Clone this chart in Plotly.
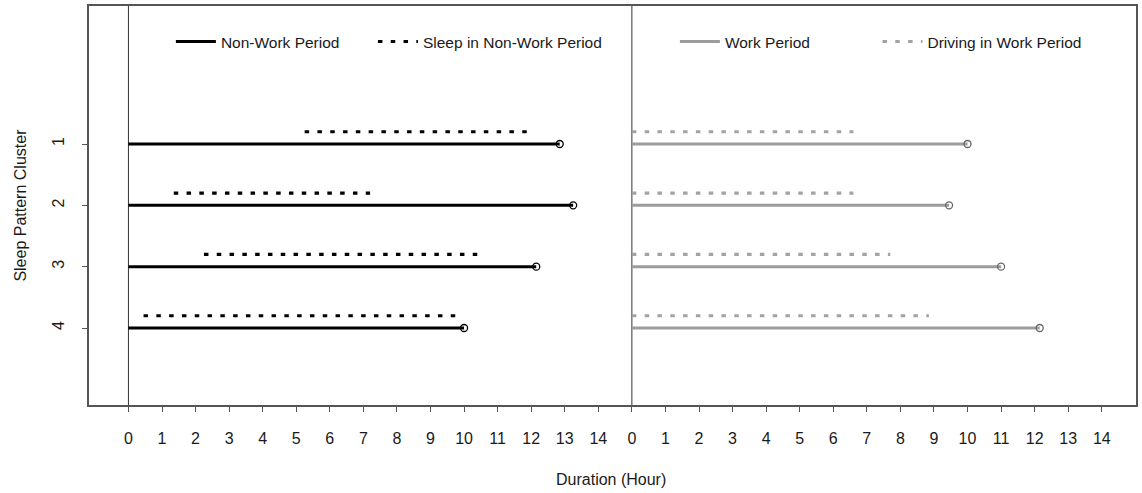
import plotly.graph_objects as go

# Sleep pattern clusters (y categories)
clusters = [1, 2, 3, 4]

# Non-work period: total length and the sleep window inside it (hours)
nonwork_hours = [12.85, 13.25, 12.15, 10.0]
sleep_start = [5.25, 1.35, 2.25, 0.45]
sleep_end = [11.9, 7.2, 10.45, 9.8]

# Work period: total length and driving time inside it (hours)
work_hours = [10.0, 9.45, 11.0, 12.15]
driving_start = [0, 0, 0, 0]
driving_end = [6.6, 6.6, 7.7, 8.85]

# Tick labels repeated for both panels
hour_ticks = list(range(0, 15))

# Right-hand panel shares the x axis, shifted by this many hours
PANEL_OFFSET = 15
DOT_SHIFT = 0.2  # dotted sub-period drawn just above its main segment

BLACK = "#000000"
GREY = "#9c9c9c"
DOT_DASH = "4.5px,8.3px"
FONT = "Liberation Sans, Arial, sans-serif"
TEXT_COLOR = "#1a1a1a"


def segments(starts, ends, ys, offset=0.0, dy=0.0):
    xs, yy = [], []
    for s, e, y in zip(starts, ends, ys):
        xs += [s + offset, e + offset, None]
        yy += [y - dy, y - dy, None]
    return xs, yy


fig = go.Figure()

# Left panel: non-work period and sleep
x, y = segments([0] * 4, nonwork_hours, clusters)
fig.add_trace(go.Scatter(x=x, y=y, mode="lines", name="Non-Work Period",
                         line=dict(color=BLACK, width=3), legend="legend"))
x, y = segments(sleep_start, sleep_end, clusters, dy=DOT_SHIFT)
fig.add_trace(go.Scatter(x=x, y=y, mode="lines", name="Sleep in Non-Work Period",
                         line=dict(color=BLACK, width=3.2, dash=DOT_DASH), legend="legend2"))
fig.add_trace(go.Scatter(x=nonwork_hours, y=clusters, mode="markers", showlegend=False,
                         marker=dict(symbol="circle-open", size=7, color=BLACK,
                                     line=dict(width=1.3, color=BLACK))))

# Right panel: work period and driving
x, y = segments([0] * 4, work_hours, clusters, offset=PANEL_OFFSET)
fig.add_trace(go.Scatter(x=x, y=y, mode="lines", name="Work Period",
                         line=dict(color=GREY, width=3), legend="legend3"))
x, y = segments(driving_start, driving_end, clusters, offset=PANEL_OFFSET, dy=DOT_SHIFT)
fig.add_trace(go.Scatter(x=x, y=y, mode="lines", name="Driving in Work Period",
                         line=dict(color="#a3a3a3", width=3.2, dash=DOT_DASH), legend="legend4"))
fig.add_trace(go.Scatter(x=[w + PANEL_OFFSET for w in work_hours], y=clusters, mode="markers",
                         showlegend=False,
                         marker=dict(symbol="circle-open", size=7, color="#666666",
                                     line=dict(width=1.3, color="#666666"))))

# Origin lines of both panels
for x0 in (0, PANEL_OFFSET):
    fig.add_shape(type="line", xref="x", yref="paper", x0=x0, x1=x0, y0=0, y1=1,
                  line=dict(color="#333333", width=1), layer="below")

tickvals = [h for h in hour_ticks] + [h + PANEL_OFFSET for h in hour_ticks]
ticktext = [str(h) for h in hour_ticks] * 2

legend_common = dict(orientation="h", yanchor="middle", y=0.91, xanchor="left",
                     bgcolor="rgba(0,0,0,0)", borderwidth=0, itemwidth=40,
                     font=dict(family=FONT, size=15.5, color=TEXT_COLOR))

fig.update_layout(
    width=1142, height=493,
    margin=dict(l=89, r=4, t=6, b=88),
    plot_bgcolor="white", paper_bgcolor="white",
    font=dict(family=FONT, size=16, color=TEXT_COLOR),
    legend=dict(x=0.0782, **legend_common),
    legend2=dict(x=0.2712, **legend_common),
    legend3=dict(x=0.5596, **legend_common),
    legend4=dict(x=0.7531, **legend_common),
    xaxis=dict(range=[-1.175, 30.02], tickmode="array", tickvals=tickvals, ticktext=ticktext,
               showgrid=False, zeroline=False, showline=True, mirror=True,
               linecolor="#555555", linewidth=1.5, ticks="outside", ticklen=5,
               tickcolor="#555555", ticklabelstandoff=13,
               tickfont=dict(family=FONT, size=16, color=TEXT_COLOR)),
    yaxis=dict(range=[5.255, -1.25], tickmode="array", tickvals=clusters,
               ticktext=[str(c) for c in clusters], tickangle=-90,
               showgrid=False, zeroline=False, showline=True, mirror=True,
               linecolor="#555555", linewidth=1.5, ticks="outside", ticklen=5,
               tickcolor="#555555", ticklabelstandoff=12,
               tickfont=dict(family=FONT, size=16, color=TEXT_COLOR)),
    annotations=[
        dict(text="Duration (Hour)", xref="paper", yref="paper", x=0.4981, y=-0.1855,
             xanchor="center", yanchor="middle", showarrow=False,
             font=dict(family=FONT, size=16, color=TEXT_COLOR)),
        dict(text="Sleep Pattern Cluster", xref="paper", yref="paper", x=-0.0658, y=0.5,
             xanchor="center", yanchor="middle", textangle=-90, showarrow=False,
             font=dict(family=FONT, size=16, color=TEXT_COLOR)),
    ],
)

fig.write_html("out.html")
